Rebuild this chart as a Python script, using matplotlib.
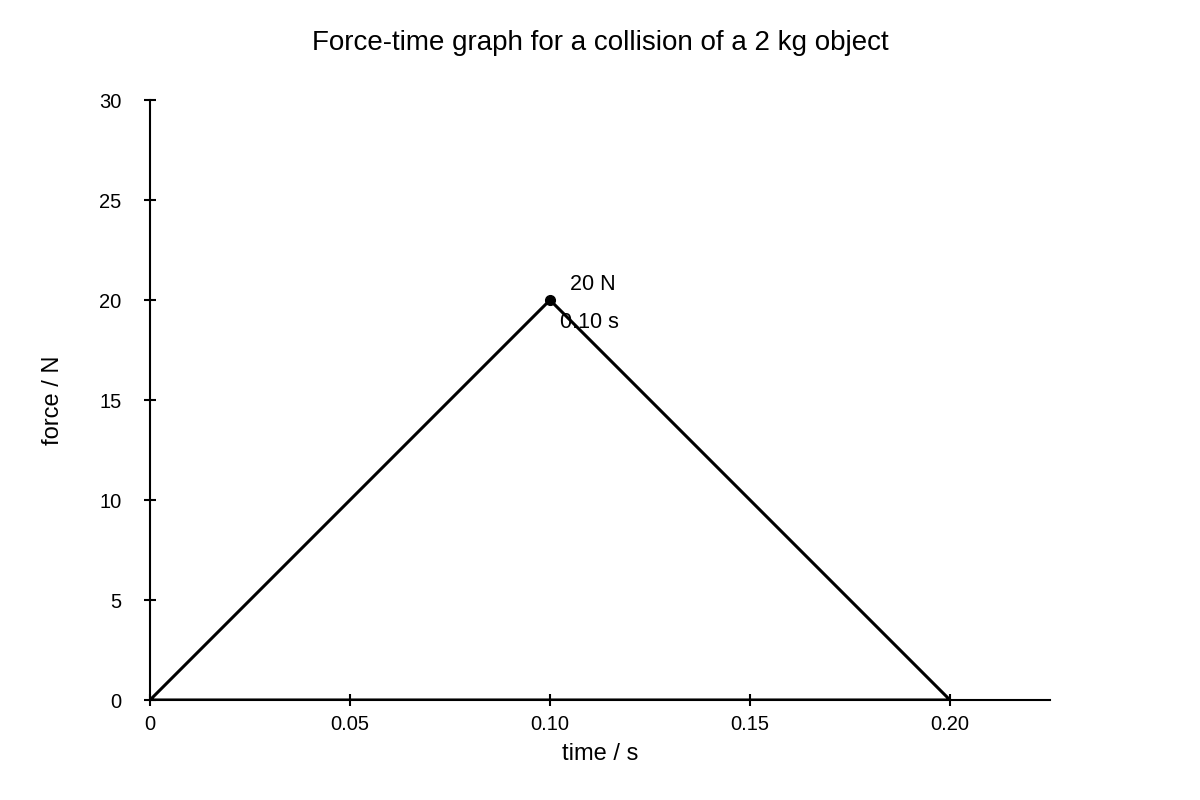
import numpy as np
import matplotlib.pyplot as plt

plt.rcParams['font.family'] = ['Liberation Sans', 'DejaVu Sans']

# Triangle pulse (closed, back along the time axis)
t = [0, 0.10, 0.20, 0]
force = [0, 20, 0, 0]
peak_t = 0.10
peak_f = 20

x_ticks = [0, 0.05, 0.10, 0.15, 0.20]
x_labels = ["0", "0.05", "0.10", "0.15", "0.20"]
y_ticks = [0, 5, 10, 15, 20, 25, 30]

fig = plt.figure(figsize=(12, 8), dpi=100)
ax = fig.add_axes([0.125, 0.125, 0.75, 0.75])

ax.plot(t, force, color="black", linewidth=2.2, solid_joinstyle="miter")
ax.plot(peak_t, peak_f, "o", color="black", markersize=7)
ax.text(peak_t + 0.005, 20.8, "20 N", fontsize=15.5, va="center")
ax.text(peak_t + 0.0025, 18.85, "0.10 s", fontsize=15.5, va="center")

ax.set_xlim(0, 0.225)
ax.set_ylim(0, 30)
ax.set_xticks(x_ticks)
ax.set_xticklabels(x_labels)
ax.set_yticks(y_ticks)

for s in ["top", "right"]:
    ax.spines[s].set_visible(False)
for s in ["left", "bottom"]:
    ax.spines[s].set_linewidth(1.5)
ax.tick_params(direction="inout", length=9, width=1.5, labelsize=14.5, pad=6)
ax.tick_params(axis="y", pad=16)

ax.set_xlabel("time / s", fontsize=17, labelpad=7)
ax.set_ylabel("force / N", fontsize=17, labelpad=25)
fig.suptitle("Force-time graph for a collision of a 2 kg object", fontsize=20, y=0.962)

fig.savefig("out.png", dpi=100)
